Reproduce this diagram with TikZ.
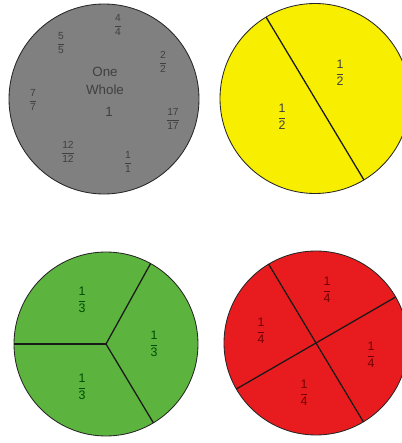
\documentclass[tikz,border=0pt]{standalone}
\usepackage{amsmath}
\usepackage{fontspec}
\setmainfont{Liberation Sans}
\usepackage{tikz}
\usetikzlibrary{calc}
\definecolor{wholegray}{RGB}{128,128,128}
\definecolor{halfyellow}{RGB}{248,238,0}
\definecolor{thirdgreen}{RGB}{92,180,62}
\definecolor{quarterred}{RGB}{232,28,30}
\newcommand{\fr}[2]{$\genfrac{}{}{0.3pt}{0}{\text{#1}}{\text{#2}}$}

\begin{document}
\begin{tikzpicture}[x=0.025cm, y=0.025cm,
    disc/.style={draw=black!85, line width=0.6pt},
    cut/.style={draw=black!90, line width=0.9pt},
    lbl/.style={inner sep=0pt, font=\fontsize{8.8}{10}\selectfont},
    tiny/.style={inner sep=0pt, font=\fontsize{7.3}{8}\selectfont},
]
\useasboundingbox (0,0) rectangle (402,443);
\clip (0,0) rectangle (402,443);

% --- One whole (gray) ---
\coordinate (gc) at (104,344);
\fill[wholegray] (gc) circle (95);
\draw[disc] (gc) circle (95);
\node[font=\fontsize{9.5}{12.5}\selectfont, align=center, text=black!75, inner sep=0pt] (one) at (105,362) {One\\Whole};
\node[lbl, font=\fontsize{9.5}{11}\selectfont, text=black!75] (gone) at (109,331) {1};
\node[tiny, text=black!75] (g4) at (118,418) {\fr{4}{4}};
\node[tiny, text=black!75] (g5) at (61,400) {\fr{5}{5}};
\node[tiny, text=black!75] (g2) at (163,381) {\fr{2}{2}};
\node[tiny, text=black!75] (g7) at (33,343) {\fr{7}{7}};
\node[tiny, text=black!75] (g17) at (173,324) {\fr{17}{17}};
\node[tiny, text=black!75] (g12) at (68,291) {\fr{12}{12}};
\node[tiny, text=black!75] (g1) at (128,281) {\fr{1}{1}};

% --- Halves (yellow) ---
\coordinate (yc) at (315,344.5);
\fill[halfyellow] (yc) circle (95);
\draw[disc] (yc) circle (95);
\coordinate (ya) at ($(yc)+(121:95)$);
\coordinate (yb) at ($(yc)+(-59:95)$);
\draw[cut] (ya) -- (yb);
\node[lbl, text=black!75] (yh1) at (340,370) {\fr{1}{2}};
\node[lbl, text=black!75] (yh2) at (282,326) {\fr{1}{2}};

% --- Thirds (green) ---
\coordinate (tc) at (106,99);
\fill[thirdgreen] (tc) circle (92);
\draw[disc] (tc) circle (92);
\foreach \a in {180,61,-59}
    \draw[cut] (tc) -- +(\a:92);
\node[lbl, text=black!70!green] (t1) at (82,143) {\fr{1}{3}};
\node[lbl, text=black!70!green] (t2) at (154,99) {\fr{1}{3}};
\node[lbl, text=black!70!green] (t3) at (82,56) {\fr{1}{3}};

% --- Quarters (red) ---
\coordinate (qc) at (316,100);
\fill[quarterred] (qc) circle (92);
\draw[disc] (qc) circle (92);
\foreach \a in {121,-59,30,210}
    \draw[cut] (qc) -- +(\a:92);
\node[lbl, text=black!55!red] (q1) at (327,153) {\fr{1}{4}};
\node[lbl, text=black!55!red] (q2) at (261,112) {\fr{1}{4}};
\node[lbl, text=black!55!red] (q3) at (371,88) {\fr{1}{4}};
\node[lbl, text=black!55!red] (q4) at (304,50) {\fr{1}{4}};
\end{tikzpicture}
\end{document}
